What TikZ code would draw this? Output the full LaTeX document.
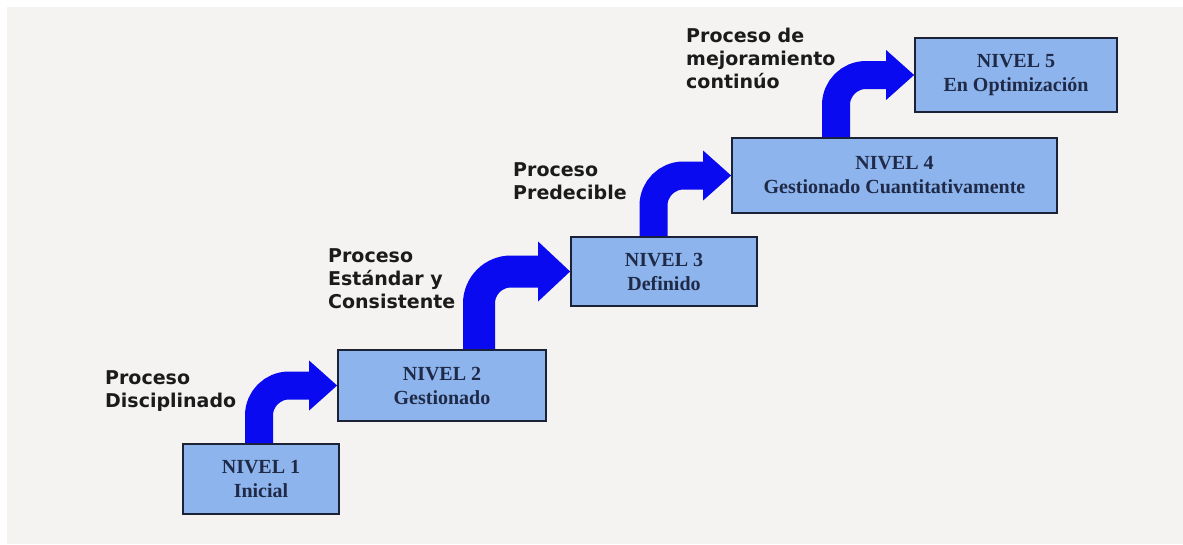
\documentclass[tikz,border=0pt]{standalone}
\usepackage{fontspec}
\setmainfont{Liberation Serif}
\newfontfamily\labelfont{DejaVu Sans}
\usetikzlibrary{arrows.meta}

\definecolor{pagegray}{HTML}{F4F3F1}
\definecolor{boxfill}{HTML}{8DB4EC}
\definecolor{boxline}{HTML}{1B2235}
\definecolor{boxtext}{HTML}{1F2A48}
\definecolor{stepblue}{HTML}{0A0AF0}
\definecolor{labeltext}{HTML}{1B1B1B}

\tikzset{
  level/.style={draw=boxline, line width=1.8pt, fill=boxfill, align=center,
    inner sep=0pt, text=boxtext,
    font=\bfseries\fontsize{20}{24}\selectfont},
  stepconn/.style={draw=stepblue, line width=28pt, rounded corners=30pt,
    -{Triangle[width=50pt,length=28pt,line width=0pt]}},
  bigconn/.style={draw=stepblue, line width=32pt, rounded corners=32pt,
    -{Triangle[width=60pt,length=32pt,line width=0pt]}},
  % base anchor of a multi-line label sits on its last line
  lbl/.style={anchor=base west, align=left, inner sep=0pt, text=labeltext,
    font=\labelfont\bfseries\fontsize{19}{23}\selectfont}
}

\begin{document}
\begin{tikzpicture}[x=1pt,y=-1pt]
  \useasboundingbox (0,0) rectangle (1183,544);
  \fill[white] (0,0) rectangle (1183,544);
  \fill[pagegray] (7,7) rectangle (1183,544);

  % the five maturity levels
  \node[level, minimum width=156pt, minimum height=70pt] (n1) at (261,479) {NIVEL 1\\Inicial};
  \node[level, minimum width=208pt, minimum height=71pt] (n2) at (442,385.5) {NIVEL 2\\Gestionado};
  \node[level, minimum width=186pt, minimum height=69pt] (n3) at (664,271.5) {NIVEL 3\\Definido};
  \node[level, minimum width=325pt, minimum height=75pt] (n4) at (894.5,175.5) {NIVEL 4\\Gestionado Cuantitativamente};
  \node[level, minimum width=202pt, minimum height=74pt] (n5) at (1016,75) {NIVEL 5\\En Optimización};

  % bent arrows climbing from one level to the next
  \draw[stepconn] ([xshift=-2pt]n1.north) |- (n2.west);
  \draw[bigconn] ([xshift=37pt]n2.north) |- (n3.west);
  \draw[stepconn] ([xshift=-10.5pt]n3.north) |- (n4.west);
  \draw[stepconn] ([xshift=-58.5pt]n4.north) |- (n5.west);

  % process labels
  \node[lbl] (t1) at (105,407) {Proceso\\Disciplinado};
  \node[lbl] (t2) at (328,308) {Proceso\\Estándar y\\Consistente};
  \node[lbl] (t3) at (513,199) {Proceso\\Predecible};
  \node[lbl] (t4) at (686,88) {Proceso de\\mejoramiento\\continúo};
\end{tikzpicture}
\end{document}
